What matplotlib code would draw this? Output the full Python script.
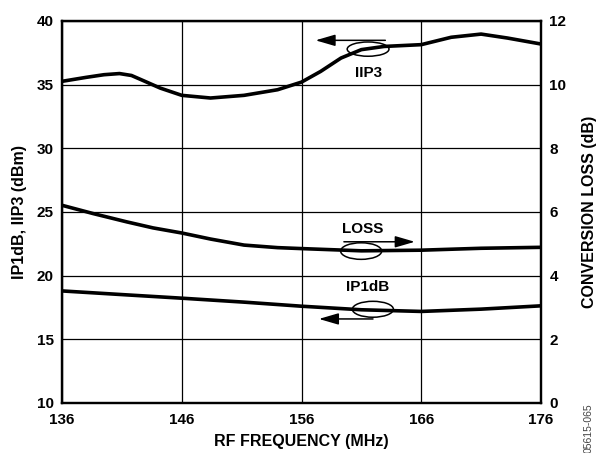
import matplotlib
matplotlib.use('Agg')
import matplotlib.pyplot as plt
from matplotlib.patches import Ellipse

plt.rcParams['font.family'] = ['Liberation Sans', 'DejaVu Sans']
plt.rcParams['font.weight'] = 'bold'

# IIP3 (dBm, left axis)
freq_iip3 = [136, 138, 139.5, 140.8, 141.8, 142.8, 144.2, 146, 148.4, 151.2, 154, 156,
             157.6, 159.3, 161, 162.9, 166, 168.5, 171, 173.2, 176]
iip3 = [35.26, 35.57, 35.78, 35.87, 35.72, 35.31, 34.73, 34.16, 33.95, 34.16, 34.6, 35.2,
        36.04, 37.09, 37.75, 38.0, 38.14, 38.72, 38.97, 38.66, 38.19]

# conversion loss (dB, right axis)
freq_loss = [136, 138.6, 141.4, 143.6, 146, 148.4, 151.2, 154, 156, 161, 166, 171, 176]
loss = [6.21, 5.95, 5.69, 5.5, 5.34, 5.15, 4.96, 4.88, 4.85, 4.78, 4.8, 4.86, 4.89]

# IP1dB (dBm, left axis)
freq_p1 = [136, 141.4, 146, 151.2, 156, 161, 166, 171, 176]
ip1db = [18.8, 18.49, 18.23, 17.92, 17.6, 17.32, 17.19, 17.37, 17.63]

x_ticks = [136, 146, 156, 166, 176]
left_ticks = [10, 15, 20, 25, 30, 35, 40]
right_ticks = [0, 2, 4, 6, 8, 10, 12]

fig = plt.figure(figsize=(5.97, 4.53), dpi=100)
ax = fig.add_axes([0.1039, 0.1104, 0.8023, 0.8433])
ax2 = ax.twinx()

ax.set_xlim(136, 176)
ax.set_ylim(10, 40)
ax2.set_ylim(0, 12)
ax.set_xticks(x_ticks)
ax.set_yticks(left_ticks)
ax2.set_yticks(right_ticks)

ax.grid(True, color='black', linewidth=0.9)
for a in (ax, ax2):
    for s in a.spines.values():
        s.set_linewidth(1.6)
ax.tick_params(axis='x', length=0, pad=7, labelsize=11)
ax.tick_params(axis='y', length=0, pad=6, labelsize=11)
ax2.tick_params(axis='y', length=0, pad=6, labelsize=11)

ax.plot(freq_iip3, iip3, color='black', lw=2.6, solid_capstyle='butt')
ax.plot(freq_p1, ip1db, color='black', lw=2.6, solid_capstyle='butt')
ax2.plot(freq_loss, loss, color='black', lw=2.6, solid_capstyle='butt')

ax.set_xlabel('RF FREQUENCY (MHz)', fontsize=11.5, fontweight='bold', labelpad=5)
ax.set_ylabel('IP1dB, IIP3 (dBm)', fontsize=11.5, fontweight='bold', labelpad=7)
ax2.set_ylabel('CONVERSION LOSS (dB)', fontsize=11.5, fontweight='bold', labelpad=11)

arrow = dict(arrowstyle='-|>,head_length=1.2,head_width=0.35', color='black', lw=1.1,
             mutation_scale=10, shrinkA=0, shrinkB=0)

# IIP3 marker
ax.add_patch(Ellipse((161.56, 37.79), 3.49, 1.12, fill=False, lw=1.1, color='black'))
ax.annotate('', xy=(157.17, 38.48), xytext=(163.0, 38.48), arrowprops=arrow)
ax.text(161.6, 35.91, 'IIP3', ha='center', va='center', fontsize=11, fontweight='bold')

# LOSS marker
ax.add_patch(Ellipse((160.98, 21.93), 3.43, 1.3, fill=False, lw=1.1, color='black'))
ax.annotate('', xy=(165.46, 22.66), xytext=(159.54, 22.66), arrowprops=arrow)
ax.text(161.08, 23.7, 'LOSS', ha='center', va='center', fontsize=11, fontweight='bold')

# IP1dB marker
ax.add_patch(Ellipse((161.96, 17.36), 3.43, 1.25, fill=False, lw=1.1, color='black'))
ax.annotate('', xy=(157.45, 16.6), xytext=(161.97, 16.6), arrowprops=arrow)
ax.text(161.5, 19.12, 'IP1dB', ha='center', va='center', fontsize=11, fontweight='bold')

fig.text(589 / 597, 1 - 428 / 453, '05615-065', rotation=90, ha='center', va='center',
         fontsize=7.5, fontweight='normal', color='#444444')

fig.savefig('out.png', dpi=100)
